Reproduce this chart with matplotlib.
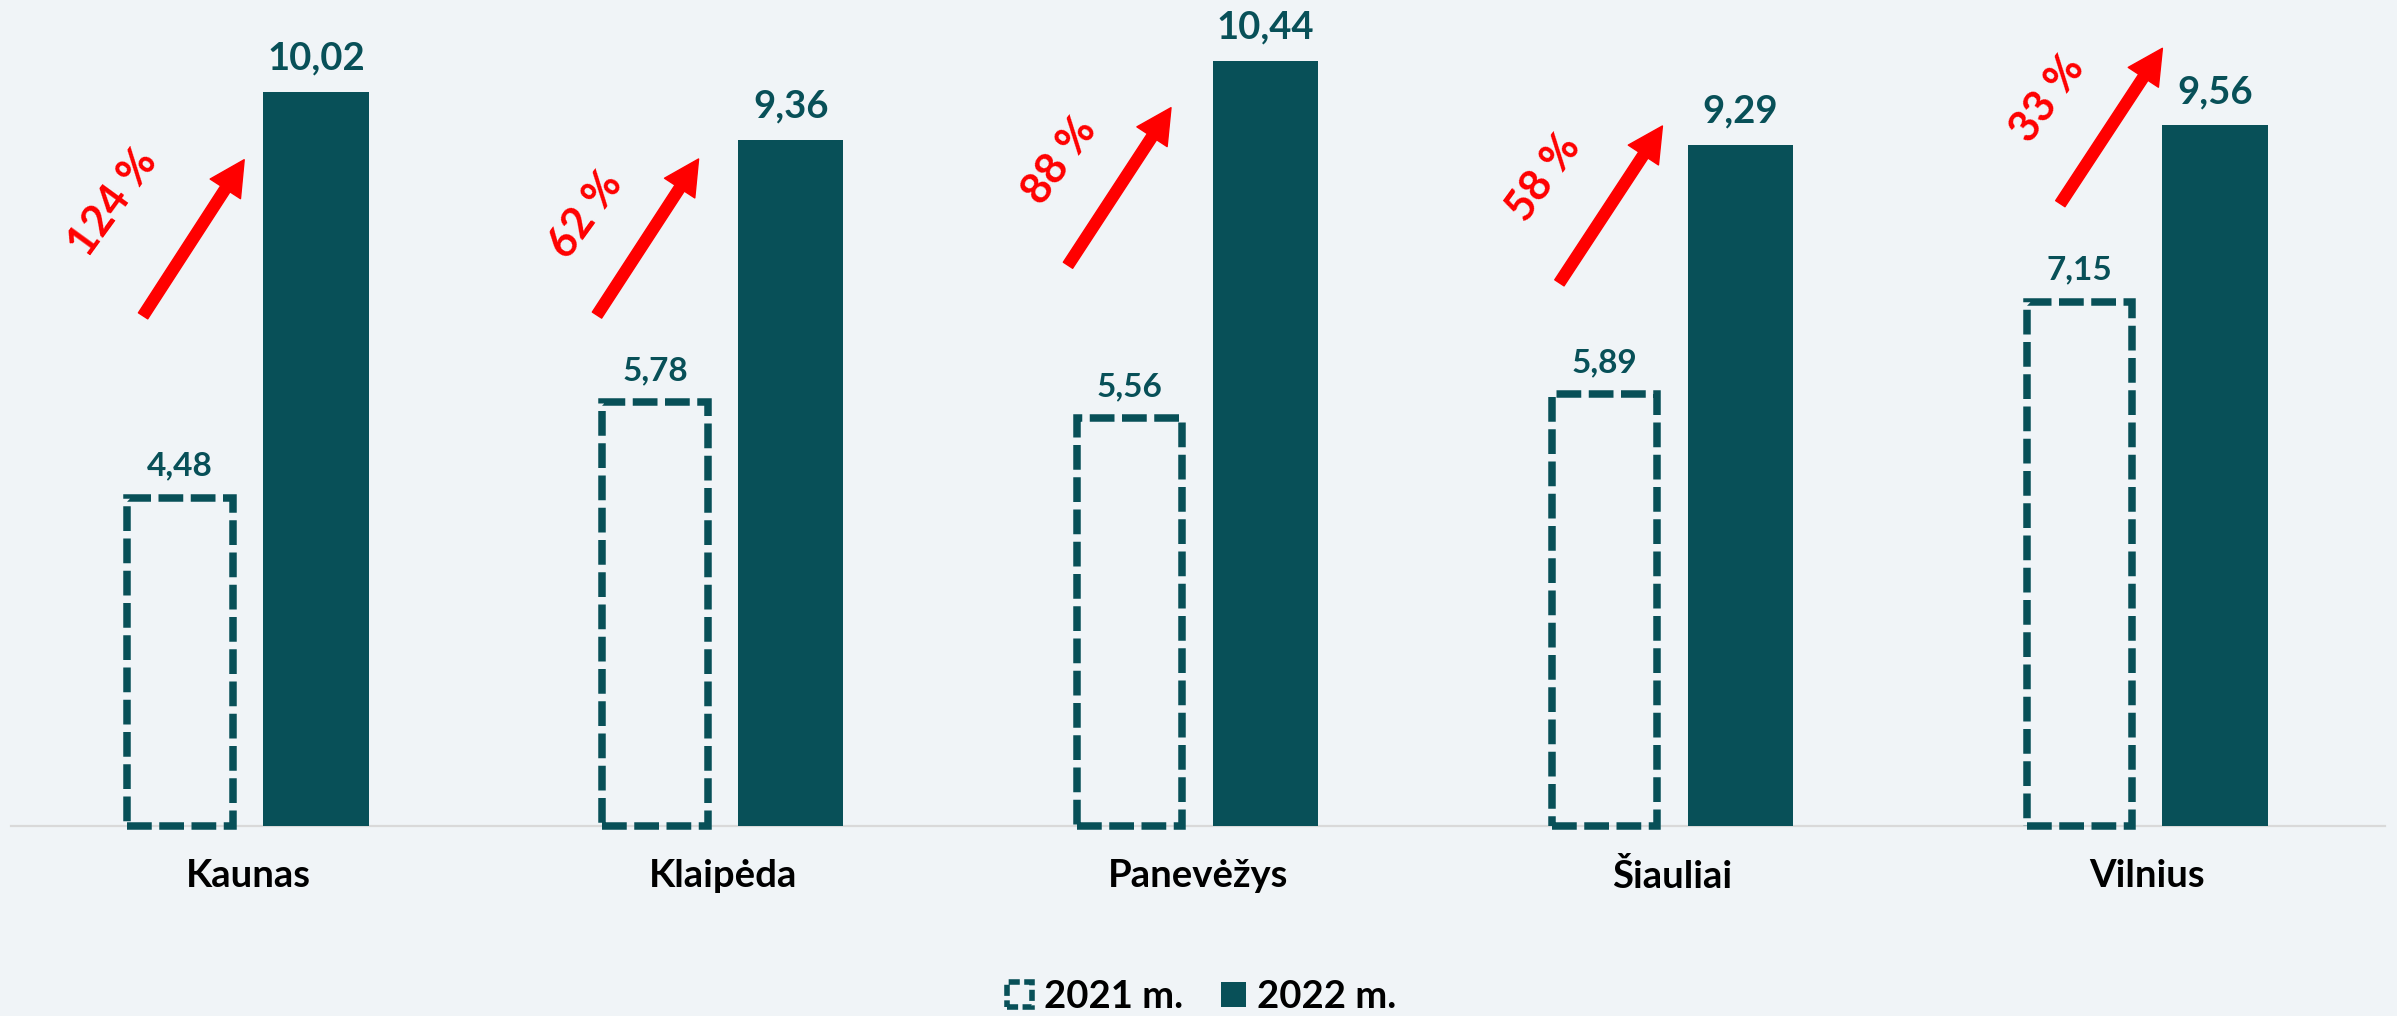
import matplotlib
matplotlib.use("Agg")
import matplotlib.pyplot as plt
from matplotlib.patches import Patch

# Data
cities = ["Kaunas", "Klaipėda", "Panevėžys", "Šiauliai", "Vilnius"]
values_2021 = [4.48, 5.78, 5.56, 5.89, 7.15]
values_2022 = [10.02, 9.36, 10.44, 9.29, 9.56]
growth_labels = ["124 %", "62 %", "88 %", "58 %", "33 %"]
series_names = ["2021 m.", "2022 m."]

# Layout of the growth arrows and their labels, relative to each category centre
arrow_tail = [(-0.221, 6.96), (-0.265, 6.97), (-0.273, 7.65), (-0.238, 7.41), (-0.183, 8.49)]
arrow_tip = [(-0.008, 9.09), (-0.051, 9.10), (-0.056, 9.80), (-0.021, 9.55), (0.032, 10.61)]
growth_pos = [(-0.284, 8.50), (-0.289, 8.34), (-0.290, 9.07), (-0.272, 8.85), (-0.211, 9.92)]

TEAL = "#085058"
BG = "#F0F4F7"
RED = "#FF0000"
FONT = ["Lato", "DejaVu Sans"]

plt.rcParams["font.family"] = FONT
plt.rcParams["font.weight"] = "bold"

fig = plt.figure(figsize=(23.97, 10.16), dpi=100, facecolor=BG)
ax = fig.add_axes([10.6 / 2397, 190 / 1016, 2374 / 2397, 826 / 1016])
ax.set_facecolor(BG)

x = list(range(len(cities)))
offset = 0.143
width = 0.222
dash = (0, (3.3, 1.0))

b21 = ax.bar([i - offset for i in x], values_2021, width=width, fill=False,
             edgecolor=TEAL, linewidth=5.4, linestyle=dash, clip_on=False, zorder=3)
b22 = ax.bar([i + offset for i in x], values_2022, width=width, color=TEAL,
             linewidth=0, zorder=3)

for i, v in enumerate(values_2021):
    ax.annotate(f"{v:.2f}".replace(".", ","), (i - offset, v), xytext=(0, 16),
                textcoords="offset points", ha="center", va="baseline",
                fontsize=24, fontweight="bold", color=TEAL)
for i, v in enumerate(values_2022):
    ax.annotate(f"{v:.2f}".replace(".", ","), (i + offset, v), xytext=(0, 16),
                textcoords="offset points", ha="center", va="baseline",
                fontsize=27.5, fontweight="bold", color=TEAL)

# Growth arrows with percentage labels
for i in x:
    tx, ty = arrow_tail[i]
    hx, hy = arrow_tip[i]
    ax.annotate("", xy=(i + hx, hy), xytext=(i + tx, ty),
                arrowprops=dict(arrowstyle="simple,head_length=2.5,head_width=2.6,tail_width=0.8",
                                color=RED, shrinkA=0, shrinkB=0, mutation_scale=10),
                zorder=4)
    gx, gy = growth_pos[i]
    ax.text(i + gx, gy, growth_labels[i], rotation=54, rotation_mode="anchor",
            ha="center", va="center", fontsize=31, fontweight="bold", color=RED)

ax.set_xlim(-0.5, len(cities) - 0.5)
ax.set_ylim(0, 826 / 73.3)
ax.set_xticks(x)
ax.set_xticklabels(cities, fontsize=27.5, fontweight="bold", color="black")
ax.tick_params(axis="x", length=0, pad=24)
ax.set_yticks([])
for s in ["top", "right", "left"]:
    ax.spines[s].set_visible(False)
ax.spines["bottom"].set_color("#D9D9D9")
ax.spines["bottom"].set_linewidth(1.6)
ax.spines["bottom"].set_zorder(2)

handles = [
    Patch(facecolor="none", edgecolor=TEAL, linewidth=4, linestyle=(0, (2.0, 0.8))),
    Patch(facecolor=TEAL, edgecolor="none"),
]
fig.legend(handles, series_names, loc="center", bbox_to_anchor=(1202 / 2397, 19 / 1016),
           ncol=2, frameon=False, prop={"weight": "bold", "size": 27.5},
           handlelength=0.65, handleheight=0.65, handletextpad=0.3, columnspacing=1.0)

fig.savefig("out.png", dpi=100, facecolor=BG)
